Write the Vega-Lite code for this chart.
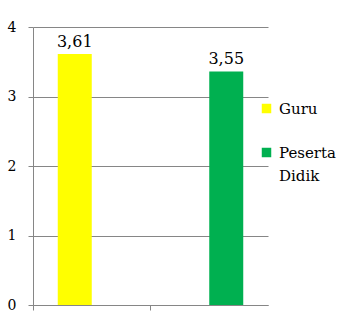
{
  "$schema": "https://vega.github.io/schema/vega-lite/v6.json",
  "autosize": "none",
  "width": 235,
  "height": 278,
  "padding": {"left": 33, "top": 27, "right": 80, "bottom": 17},
  "background": "white",
  "config": {
    "view": {"stroke": null},
    "font": "DejaVu Serif",
    "style": {"guide-label": {"lineHeight": 23}}
  },
  "data": {
    "values": [
      {"kategori": "A", "seri": "Guru", "nilai": 3.61, "label": "3,61"},
      {"kategori": "B", "seri": "Peserta Didik", "nilai": 3.36, "label": "3,55"}
    ]
  },
  "encoding": {
    "x": {
      "field": "kategori",
      "type": "nominal",
      "scale": {"paddingInner": 0, "paddingOuter": 0},
      "axis": {
        "title": null,
        "labels": false,
        "bandPosition": 0,
        "tickSize": 5,
        "tickColor": "#868686",
        "domainColor": "#868686",
        "grid": false
      }
    },
    "xOffset": {
      "field": "seri",
      "type": "nominal",
      "scale": {"domain": ["Guru", "Peserta Didik"], "paddingInner": 0, "paddingOuter": 0.728}
    },
    "y": {
      "field": "nilai",
      "type": "quantitative",
      "scale": {"domain": [0, 4], "nice": false},
      "axis": {
        "title": null,
        "values": [0, 1, 2, 3, 4],
        "grid": true,
        "gridColor": "#868686",
        "domainColor": "#868686",
        "tickColor": "#868686",
        "tickSize": 5,
        "labelPadding": 12,
        "labelFont": "DejaVu Serif",
        "labelFontSize": 14,
        "labelColor": "black"
      }
    }
  },
  "layer": [
    {
      "mark": {"type": "bar"},
      "encoding": {
        "color": {
          "field": "seri",
          "type": "nominal",
          "scale": {"domain": ["Guru", "Peserta Didik"], "range": ["#FFFF00", "#00B050"]},
          "legend": {
            "title": null,
            "orient": "none",
            "legendX": 226,
            "legendY": 74,
            "symbolType": "square",
            "symbolSize": 90,
            "symbolStrokeWidth": 0,
            "labelFont": "DejaVu Serif",
            "labelFontSize": 15,
            "labelColor": "black",
            "labelLimit": 200,
            "labelOffset": 5,
            "rowPadding": 28,
            "labelExpr": "datum.label == 'Peserta Didik' ? ['Peserta', 'Didik'] : datum.label"
          }
        }
      }
    },
    {
      "mark": {"type": "text", "baseline": "bottom", "dy": -4, "fontSize": 16, "font": "DejaVu Serif", "color": "black"},
      "encoding": {
        "text": {"field": "label"}
      }
    }
  ]
}
